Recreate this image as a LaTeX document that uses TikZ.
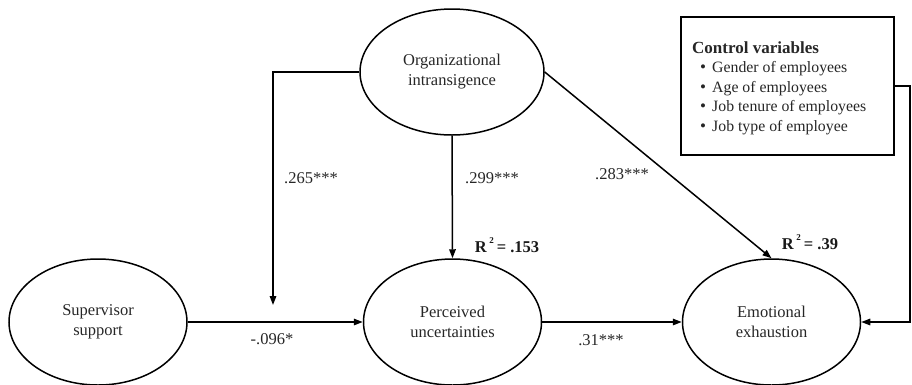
\documentclass[tikz,border=0pt]{standalone}
\usepackage{fontspec}
\setmainfont{Liberation Serif}
\usetikzlibrary{shapes.geometric,arrows.meta}
\newcommand{\rsqtext}[1]{R\hspace{2.5pt}\raisebox{8.5pt}{\fontsize{9}{9}\selectfont 2}\hspace{3pt}= #1}
\tikzset{
  lat/.style={ellipse, draw, line width=1.5pt, minimum width=178pt, minimum height=126pt, inner sep=0pt, align=center, font=\fontsize{16.5}{20}\selectfont, text=black!85},
  arr/.style={line width=1.5pt, -{Triangle[length=9pt,width=6.5pt]}},
  lab/.style={font=\fontsize{16.5}{20}\selectfont, text=black!85, inner sep=0pt},
  rsq/.style={font=\fontsize{16.5}{20}\selectfont\bfseries, text=black!90, inner sep=0pt},
  boxtxt/.style={font=\fontsize{15.8}{19}\selectfont, text=black!85, inner sep=0pt, anchor=west},
  bul/.style={font=\fontsize{17}{19}\selectfont, text=black!85, inner sep=0pt},
}
\begin{document}
\begin{tikzpicture}[x=1pt,y=-1pt]
\useasboundingbox (0,0) rectangle (912,384);
% latent variables
\node[lat] (sup)  at (98,322)    {Supervisor\\support};
\node[lat] (perc) at (452.5,322) {Perceived\\uncertainties};
\node[lat] (emo)  at (771.5,322) {Emotional\\exhaustion};
\node[lat, minimum width=184pt] (org)  at (452,72)  {Organizational\\intransigence};
% control box
\node[draw, line width=1.2pt, minimum width=213pt, minimum height=138pt, inner sep=0pt] (box) at (787.5,86) {};
\node[boxtxt, font=\fontsize{17}{19}\selectfont\bfseries] (ct) at (692,48) {Control variables};
\node[bul] (b1) at (703,69)  {\textbullet};
\node[bul] (b2) at (703,88.5)  {\textbullet};
\node[bul] (b3) at (703,108) {\textbullet};
\node[bul] (b4) at (703,127.5) {\textbullet};
\node[boxtxt] (t1) at (712,69)  {Gender of employees};
\node[boxtxt] (t2) at (712,88.5)  {Age of employees};
\node[boxtxt] (t3) at (712,108) {Job tenure of employees};
\node[boxtxt] (t4) at (712,127.5) {Job type of employee};
% connectors
\coordinate (mod) at (273,305);
\coordinate (rc) at (910,86);
\draw[arr] (org.west) -| (mod);
\draw[arr] (org.south) -- (perc.north);
\draw[arr] (org.east) -- (emo.north);
\draw[arr] (sup.east) -- (perc.west);
\draw[arr] (perc.east) -- (emo.west);
\draw[arr] (box.east) -- (rc) |- (emo.east);
% labels
\node[lab] (l1) at (311,178) {.265***};
\node[lab] (l2) at (492,178) {.299***};
\node[lab] (l3) at (622,174) {.283***};
\node[lab] (l4) at (272,339) {-.096*};
\node[lab] (l5) at (601,340) {.31***};
\node[rsq] (r1) at (507,245) {\rsqtext{.153}};
\node[rsq] (r2) at (810,242) {\rsqtext{.39}};
\end{tikzpicture}
\end{document}
